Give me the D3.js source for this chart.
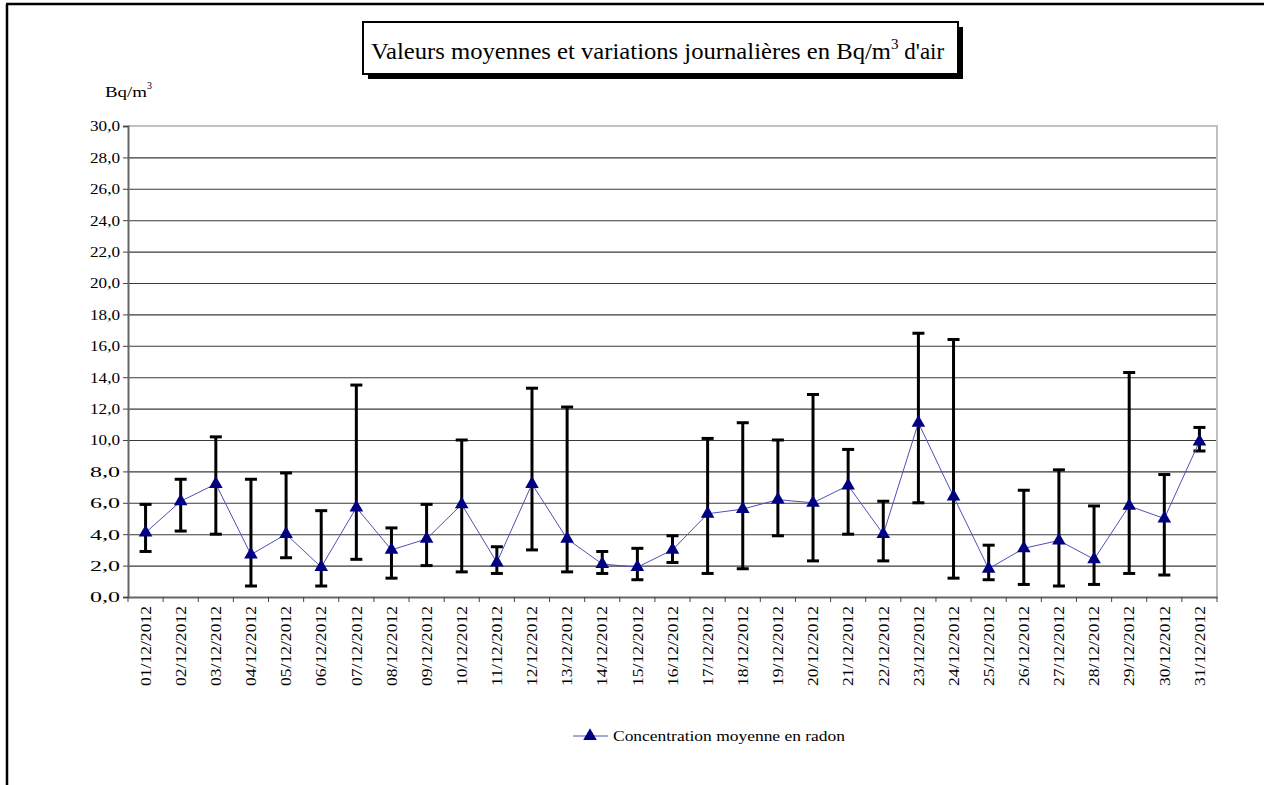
<!DOCTYPE html>
<html>
<head>
<meta charset="utf-8">
<script src="https://cdn.jsdelivr.net/npm/d3@7"></script>
<style>
	body { margin: 0; background: #fff; }
	svg text { font-family: "Liberation Serif", "Times New Roman", Times, serif !important; fill: #000; }
</style>
</head>
<body>
<div id="chart-area"></div>
<script>

// SVG Size
let width = 1264,
	height = 785;

// Daily data (Bq/m3)
let days = ["01/12/2012","02/12/2012","03/12/2012","04/12/2012","05/12/2012","06/12/2012","07/12/2012","08/12/2012","09/12/2012","10/12/2012","11/12/2012","12/12/2012","13/12/2012","14/12/2012","15/12/2012","16/12/2012","17/12/2012","18/12/2012","19/12/2012","20/12/2012","21/12/2012","22/12/2012","23/12/2012","24/12/2012","25/12/2012","26/12/2012","27/12/2012","28/12/2012","29/12/2012","30/12/2012","31/12/2012"];
let means = [4.1, 6.1, 7.2, 2.7, 4.0, 1.9, 5.7, 3.0, 3.7, 5.9, 2.2, 7.2, 3.7, 2.1, 1.9, 3.0, 5.3, 5.6, 6.2, 6.0, 7.1, 4.0, 11.1, 6.4, 1.8, 3.1, 3.6, 2.4, 5.8, 5.0, 9.9];
let highs = [5.9, 7.5, 10.2, 7.5, 7.9, 5.5, 13.5, 4.4, 5.9, 10.0, 3.2, 13.3, 12.1, 2.9, 3.1, 3.9, 10.1, 11.1, 10.0, 12.9, 9.4, 6.1, 16.8, 16.4, 3.3, 6.8, 8.1, 5.8, 14.3, 7.8, 10.8];
let lows = [2.9, 4.2, 4.0, 0.7, 2.5, 0.7, 2.4, 1.2, 2.0, 1.6, 1.5, 3.0, 1.6, 1.5, 1.1, 2.2, 1.5, 1.8, 3.9, 2.3, 4.0, 2.3, 6.0, 1.2, 1.1, 0.8, 0.7, 0.8, 1.5, 1.4, 9.3];
let yTicks = d3.range(0, 31, 2);
let seriesName = "Concentration moyenne en radon";

let data = days.map((d, i) => {
	return {day: d, mean: means[i], high: highs[i], low: lows[i]};
});

let plot = {left: 128, right: 1217, top: 126, bottom: 597};
let serif = "'Liberation Serif', 'Times New Roman', serif";

let svg = d3.select("#chart-area").append("svg")
	.attr("width", width)
	.attr("height", height)
	.attr("font-family", serif);

// outer frame
svg.append("line")
	.attr("x1", 7).attr("x2", 7).attr("y1", 4).attr("y2", height)
	.attr("stroke", "#000").attr("stroke-width", 2.5);
svg.append("line")
	.attr("x1", 6).attr("x2", width).attr("y1", 4).attr("y2", 4)
	.attr("stroke", "#000").attr("stroke-width", 2.5);

let XScale = d3.scaleBand()
	.domain(days)
	.range([plot.left, plot.right]);
let YScale = d3.scaleLinear()
	.domain([0, 30])
	.range([plot.bottom, plot.top]);

let fmt = v => d3.format(".1f")(v).replace(".", ",");

// gridlines
svg.append("g")
	.attr("class", "grid")
	.attr("transform", "translate(" + plot.left + ",0)")
	.call(d3.axisLeft(YScale).tickValues(yTicks.slice(1, -1)).tickSize(-(plot.right - plot.left)).tickFormat(""))
	.call(g => g.select(".domain").remove())
	.call(g => g.selectAll("line").attr("stroke", "#3a3a3a").attr("stroke-width", 1.1));

// plot border top/right
svg.append("path")
	.attr("d", "M" + plot.left + "," + plot.top + "H" + plot.right + "V" + plot.bottom)
	.attr("fill", "none")
	.attr("stroke", "#c0c0c0")
	.attr("stroke-width", 2);

// y axis
let yAxis = svg.append("g")
	.attr("class", "axis y-axis")
	.attr("transform", "translate(" + plot.left + ",0)")
	.call(d3.axisLeft(YScale).tickValues(yTicks).tickSize(5).tickPadding(3).tickFormat(fmt))
	.attr("font-family", serif);
yAxis.select(".domain").attr("stroke", "#666").attr("stroke-width", 2);
yAxis.selectAll("line").attr("stroke", "#444");
yAxis.selectAll("text")
	.attr("font-family", serif)
	.style("font-size", "15px")
	.attr("textLength", 30)
	.attr("lengthAdjust", "spacingAndGlyphs");

// x axis (ticks between categories)
let xAxis = svg.append("g")
	.attr("class", "axis x-axis")
	.attr("transform", "translate(0," + plot.bottom + ")")
	.call(d3.axisBottom(XScale).tickSize(0).tickPadding(0))
	.attr("font-family", serif);
xAxis.select(".domain").attr("stroke", "#666").attr("stroke-width", 2);
xAxis.selectAll("text")
	.attr("transform", "rotate(-90)")
	.attr("x", -9)
	.attr("y", 0)
	.attr("dy", "0.35em")
	.attr("text-anchor", "end")
	.attr("font-family", serif)
	.style("font-size", "15px")
	.attr("textLength", 80)
	.attr("lengthAdjust", "spacingAndGlyphs");
xAxis.selectAll(".sep")
	.data(days.concat(["end"]))
	.enter()
	.append("line")
	.attr("class", "sep")
	.attr("x1", (d, i) => plot.left + i * XScale.step())
	.attr("x2", (d, i) => plot.left + i * XScale.step())
	.attr("y1", 0)
	.attr("y2", 5)
	.attr("stroke", "#444");

let cx = d => XScale(d.day) + XScale.bandwidth() / 2;

// error bars
let bars = svg.append("g").attr("class", "error-bars");
bars.selectAll(".stem").data(data).enter()
	.append("line")
	.attr("x1", cx).attr("x2", cx)
	.attr("y1", d => YScale(d.high))
	.attr("y2", d => YScale(d.low))
	.attr("stroke", "#000").attr("stroke-width", 3);
bars.selectAll(".cap-hi").data(data).enter()
	.append("line")
	.attr("x1", d => cx(d) - 6).attr("x2", d => cx(d) + 6)
	.attr("y1", d => YScale(d.high)).attr("y2", d => YScale(d.high))
	.attr("stroke", "#000").attr("stroke-width", 3);
bars.selectAll(".cap-lo").data(data).enter()
	.append("line")
	.attr("x1", d => cx(d) - 6).attr("x2", d => cx(d) + 6)
	.attr("y1", d => YScale(d.low)).attr("y2", d => YScale(d.low))
	.attr("stroke", "#000").attr("stroke-width", 3);

// mean line
let line = d3.line()
	.x(cx)
	.y(d => YScale(d.mean));
svg.append("path")
	.datum(data)
	.attr("d", line)
	.attr("fill", "none")
	.attr("stroke", "#5050b8")
	.attr("stroke-width", 1);

let tri = d3.symbol().type(d3.symbolTriangle).size(80);
svg.selectAll(".marker").data(data).enter()
	.append("path")
	.attr("class", "marker")
	.attr("d", tri)
	.attr("transform", d => "translate(" + cx(d) + "," + YScale(d.mean) + ")")
	.attr("fill", "#000080");

// title box
let tb = {x: 363, y: 22, w: 595, h: 52};
svg.append("rect")
	.attr("x", tb.x + 5).attr("y", tb.y + 5)
	.attr("width", tb.w).attr("height", tb.h)
	.attr("fill", "#000");
svg.append("rect")
	.attr("x", tb.x).attr("y", tb.y)
	.attr("width", tb.w).attr("height", tb.h)
	.attr("fill", "#fff")
	.attr("stroke", "#000")
	.attr("stroke-width", 2);
let title = svg.append("text")
	.attr("x", tb.x + 8)
	.attr("y", 59)
	.attr("font-family", serif)
	.style("font-size", "23px");
title.append("tspan")
	.attr("textLength", 520)
	.attr("lengthAdjust", "spacingAndGlyphs")
	.text("Valeurs moyennes et variations journalières en Bq/m");
title.append("tspan").attr("dy", -10).style("font-size", "15px").text("3");
title.append("tspan").attr("dy", 10).text(" d'air");

// unit label
let unit = svg.append("text")
	.attr("x", 105)
	.attr("y", 97)
	.attr("font-family", serif)
	.style("font-size", "15px");
unit.append("tspan")
	.attr("textLength", 42)
	.attr("lengthAdjust", "spacingAndGlyphs")
	.text("Bq/m");
unit.append("tspan").attr("dy", -8).style("font-size", "10px").text("3");

// legend
let legend = svg.append("g").attr("class", "legend");
legend.append("line")
	.attr("x1", 573).attr("x2", 608).attr("y1", 736).attr("y2", 736)
	.attr("stroke", "#5050b8").attr("stroke-width", 1);
legend.append("path")
	.attr("d", tri)
	.attr("transform", "translate(590,736)")
	.attr("fill", "#000080");
legend.append("text")
	.attr("x", 613)
	.attr("y", 741)
	.attr("font-family", serif)
	.style("font-size", "15px")
	.attr("textLength", 232)
	.attr("lengthAdjust", "spacingAndGlyphs")
	.text(seriesName);

</script>
</body>
</html>
